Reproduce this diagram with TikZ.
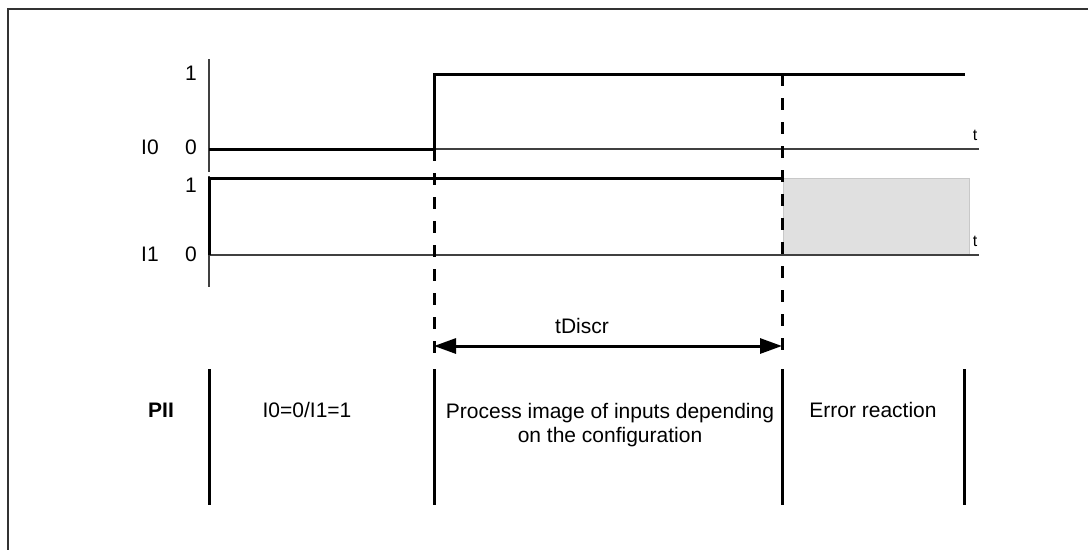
\documentclass[tikz,border=0pt]{standalone}
\usepackage{fontspec}
\setmainfont{Liberation Sans}
\usetikzlibrary{arrows.meta}
\definecolor{boxgray}{HTML}{E0E0E0}
\definecolor{boxedge}{HTML}{C8C8C8}
\tikzset{
  frameline/.style={line width=1.4pt, black!80},
  thinline/.style={line width=1.1pt, black!75},
  signal/.style={line width=3pt, black, line cap=butt, line join=miter},
  dashline/.style={line width=3pt, black, dash pattern=on 12pt off 12pt},
  phaseline/.style={line width=3pt, black},
  lbl/.style={inner sep=0pt, font=\fontsize{21}{24}\selectfont},
  tlbl/.style={inner sep=0pt, font=\fontsize{16}{18}\selectfont},
  dimarrow/.style={line width=3pt, {Triangle[length=22pt,width=15pt]}-{Triangle[length=22pt,width=15pt]}},
}
\begin{document}
\begin{tikzpicture}[x=1pt,y=-1pt]
\useasboundingbox (0,0) rectangle (1088,550);
% frame (top and left)
\draw[frameline] (1088,9) -- (8,9) -- (8,550);
% I0 axes
\draw[thinline] (209,59) -- (209,172);
\draw[thinline] (209,149) -- (979,149);
% I1 axes
\draw[thinline] (209,176) -- (209,287);
% gray error region
\draw[fill=boxgray, draw=boxedge, line width=0.8pt] (783,178) rectangle (969,255);
\draw[thinline] (209,255) -- (979,255);
% signals
\draw[signal] (209,149) -- (434,149) -- (434,74) -- (965,74);
\draw[signal] (209,255) -- (209,178) -- (782,178);
% dashed markers
\draw[dashline] (434,149) -- (434,353);
\draw[dashline] (782,74) -- (782,353);
% tDiscr dimension
\coordinate (dl) at (434,346);
\coordinate (dr) at (782,346);
\draw[dimarrow] (dl) -- (dr);
\node[lbl] (tdiscr) at (582,326) {tDiscr};
% axis labels
\node[lbl] (one0) at (191,73) {1};
\node[lbl] (zero0) at (191,147) {0};
\node[lbl] (nI0) at (150,147) {I0};
\node[lbl] (one1) at (191,185) {1};
\node[lbl] (zero1) at (191,254) {0};
\node[lbl] (nI1) at (150,254) {I1};
\node[tlbl] (t0) at (975,135) {t};
\node[tlbl] (t1) at (975,241) {t};
% phase separators
\foreach \x in {209,434,782,964} \draw[phaseline] (\x,369) -- (\x,505);
% phase texts
\node[lbl, font=\bfseries\fontsize{21}{24}\selectfont] (pii) at (161,410) {PII};
\node[lbl] (ph1) at (307,410) {I0=0/I1=1};
\node[lbl, anchor=north, align=center] (ph2) at (610,403) {Process image of inputs depending\\on the configuration};
\node[lbl] (ph3) at (873,410) {Error reaction};
\end{tikzpicture}
\end{document}
